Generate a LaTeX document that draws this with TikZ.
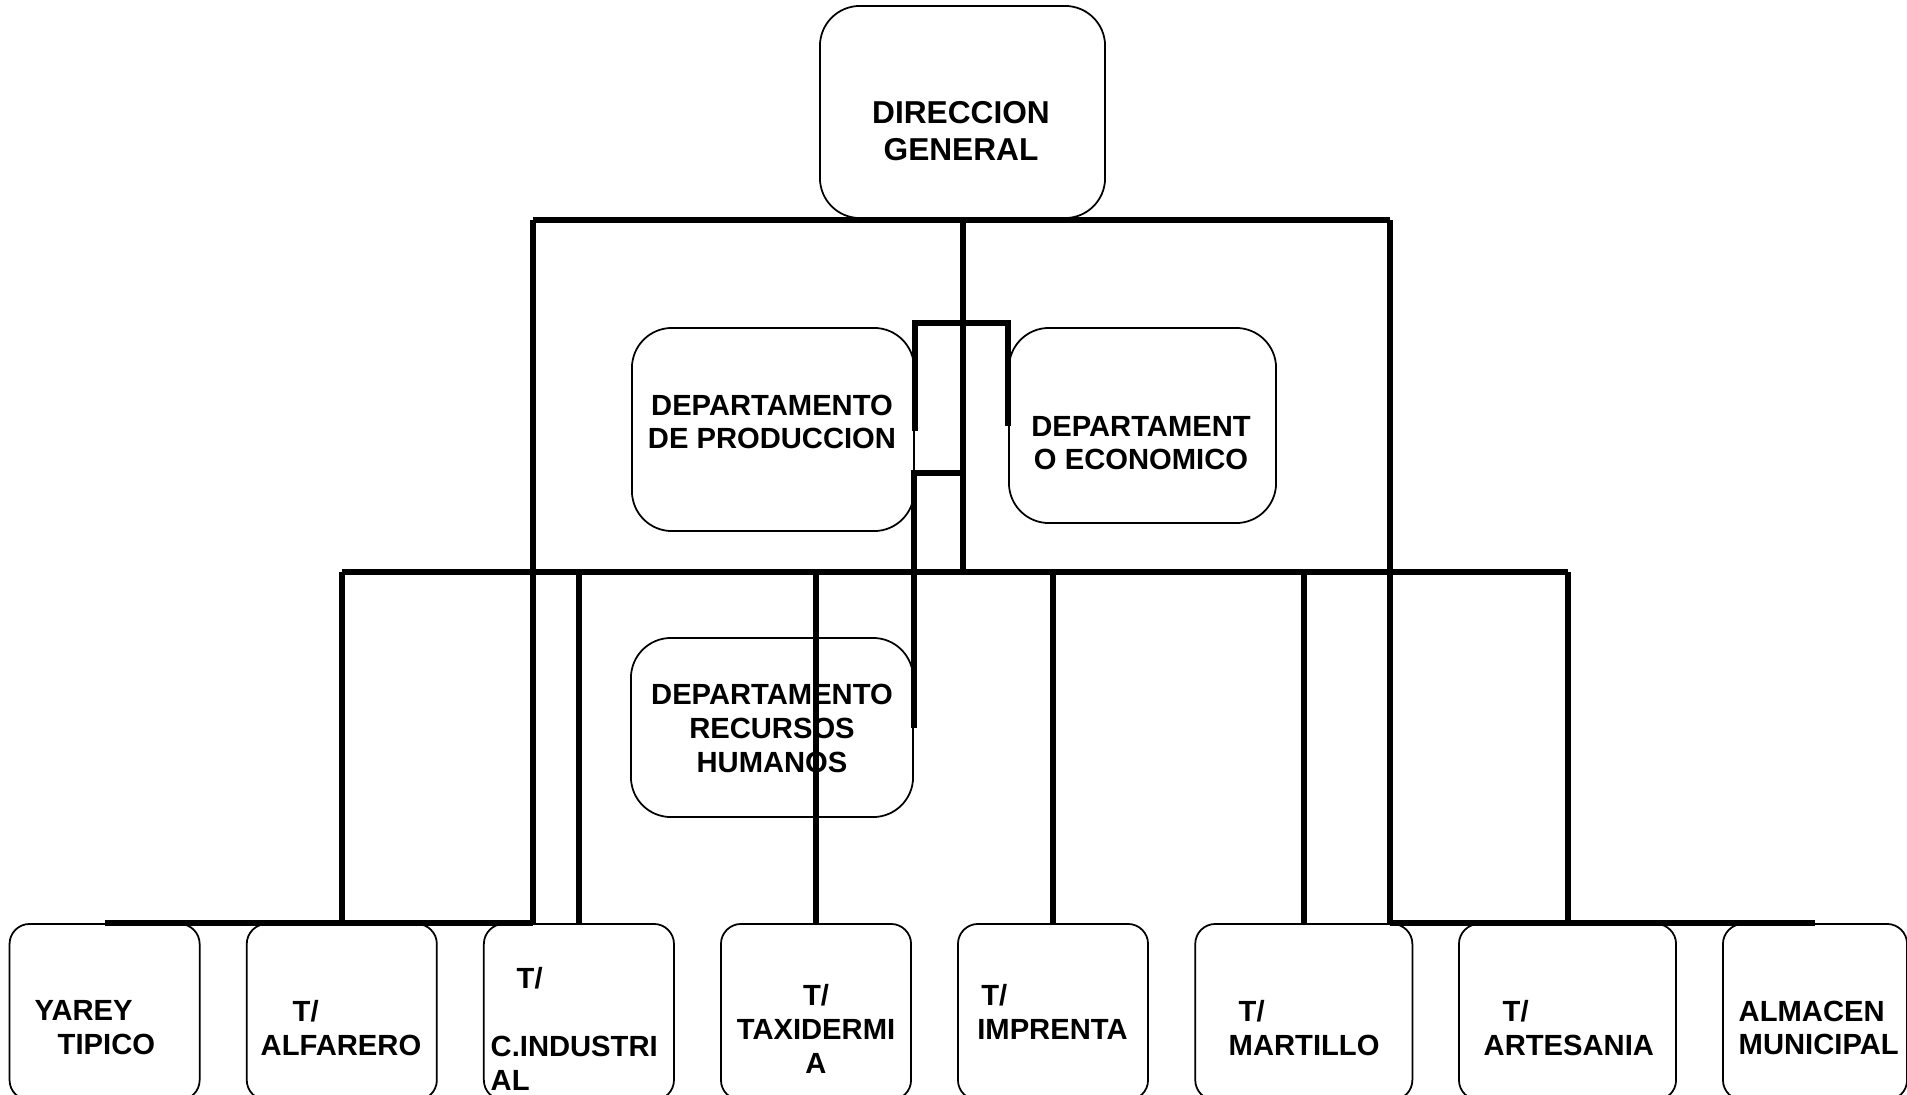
\documentclass[tikz,border=0pt]{standalone}
\usepackage{fontspec}
\setmainfont{Liberation Sans}

\begin{document}
\begin{tikzpicture}[x=0.01cm,y=-0.01cm,
caja/.style={draw,line width=0.5pt,rounded corners=0.4cm,inner sep=0pt},
cajab/.style={draw,line width=0.5pt,rounded corners=0.2cm,inner sep=0pt,minimum width=1.9cm,minimum height=1.76cm},
linea/.style={line width=1.7pt},
rotulo/.style={font=\bfseries\fontsize{8.3}{9.6}\selectfont,inner sep=0pt}]
\useasboundingbox (0,0) rectangle (1907,1094);
\clip (0,0) rectangle (1907,1094);

% cajas
\node[caja,minimum width=2.85cm,minimum height=2.12cm] (dg) at (962.5,112) {};
\node[caja,minimum width=2.82cm,minimum height=2.03cm] (prod) at (773,429.5) {};
\node[caja,minimum width=2.67cm,minimum height=1.95cm] (eco) at (1142.5,425.5) {};
\node[caja,minimum width=2.82cm,minimum height=1.79cm] (rrhh) at (772,727.5) {};
\node[cajab] (b1) at (104.6,1012) {};
\node[cajab] (b2) at (341.8,1012) {};
\node[cajab] (b3) at (578.9,1012) {};
\node[cajab] (b4) at (816,1012) {};
\node[cajab] (b5) at (1053,1012) {};
\node[cajab,minimum width=2.17cm] (b6) at (1303.8,1012) {};
\node[cajab,minimum width=2.17cm] (b7) at (1567.5,1012) {};
\node[cajab,minimum width=1.84cm] (b8) at (1815,1012) {};

% textos
\node[rotulo,align=center,font=\bfseries\fontsize{9}{10.6}\selectfont] (dgt) at (961,131) {DIRECCION\\GENERAL};
\node[rotulo,align=center] (prodt) at (772,422) {DEPARTAMENTO\\DE PRODUCCION};
\node[rotulo,align=center] (ecot) at (1141,443) {DEPARTAMENT\\O ECONOMICO};
\node[rotulo,align=center] (rrhht) at (772,728.5) {DEPARTAMENTO\\RECURSOS\\HUMANOS};
\node[rotulo,align=left,anchor=north west] (t1) at (34,1000) {YAREY\\\hspace*{0.23cm}TIPICO};
\node[rotulo,align=left,anchor=north west] (t2) at (260,1000) {\hspace*{0.32cm}T/\\ALFARERO};
\node[rotulo,align=left,anchor=north west] (t3) at (490,967) {\hspace*{0.26cm}T/\\\mbox{}\\C.INDUSTRI\\AL};
\node[rotulo,align=center,anchor=north] (t4) at (816,984) {T/\\TAXIDERMI\\A};
\node[rotulo,align=left,anchor=north west] (t5) at (976.6,984) {\hspace*{0.04cm}T/\\IMPRENTA};
\node[rotulo,align=left,anchor=north west] (t6) at (1228,1000) {\hspace*{0.1cm}T/\\MARTILLO};
\node[rotulo,align=left,anchor=north west] (t7) at (1483,1000) {\hspace*{0.19cm}T/\\ARTESANIA};
\node[rotulo,align=left,anchor=north west] (t8) at (1738,1000) {ALMACEN\\MUNICIPAL};

% lineas
\coordinate (tl) at (533,220);
\coordinate (tr) at (1390,220);
\coordinate (ml) at (342,572);
\coordinate (mr) at (1568,572);
\coordinate (k1) at (962,323);
\coordinate (k2) at (962,473);
\draw[linea] (tl) -- (tr);
\draw[linea] (dg.south) -- (dg.south |- ml);
\draw[linea] (tl) -- (tl |- b1.north);
\draw[linea] (tr) -- (tr |- b1.north);
\draw[linea] (ml) -- (mr);
\draw[linea] (b1.north) -- (tl |- b1.north);
\draw[linea] (tr |- b1.north) -- (b8.north);
\foreach \b in {b2,b3,b4,b5,b6,b7}
  \draw[linea] (\b.north) -- (\b.north |- ml);
\draw[linea] (prod.east |- 0,431) |- (k1) -| (eco.west |- 0,426);
\draw[linea] (k2) -| (rrhh.east);
\end{tikzpicture}
\end{document}
